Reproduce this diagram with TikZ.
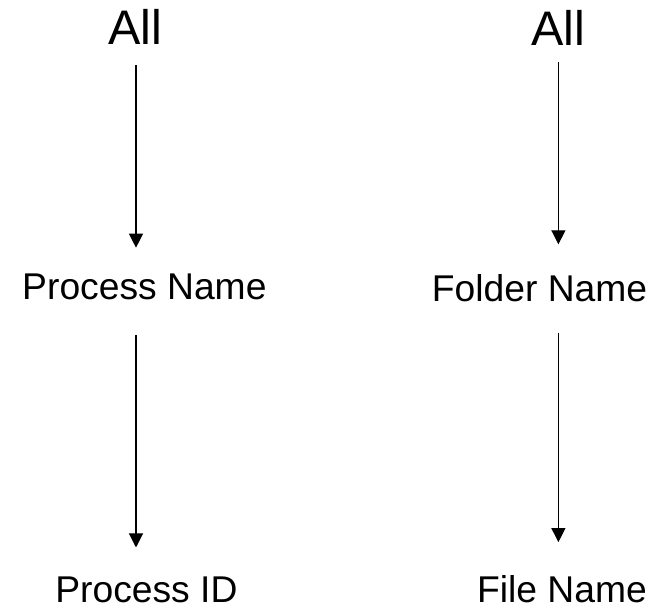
\documentclass[tikz,border=0pt]{standalone}
\usepackage{fontspec}
\setmainfont{Liberation Sans}
\usetikzlibrary{arrows.meta,calc}

\begin{document}
\begin{tikzpicture}[
  top/.style={inner sep=0pt,anchor=base,font=\fontsize{34.5}{40}\selectfont},
  lvl/.style={inner sep=0pt,anchor=base,font=\fontsize{26.5}{31}\selectfont},
  arr/.style={line width=0.8pt,-{Triangle[length=10pt,width=10pt]}}]
\useasboundingbox (0,0) rectangle (16.625,15.275);

\node[top] (allL) at (3.375,14.15) {All};
\node[lvl] (pname) at (3.61,7.775) {Process Name};
\node[lvl] (pid) at (3.66,0.2) {Process ID};

\node[top] (allR) at (13.96,14.125) {All};
\node[lvl] (fname) at (13.49,7.725) {Folder Name};
\node[lvl] (file) at (14.05,0.2) {File Name};

\draw[arr,shorten <=0.5cm,shorten >=0.66cm] ($(allL.south)+(0.025,0)$) -- ($(allL.south |- pname.north)+(0.025,0)$);
\draw[arr,shorten <=0.87cm,shorten >=0.74cm] ($(allL.south |- pname.south)+(0.025,0)$) -- ($(allL.south |- pid.north)+(0.025,0)$);

\draw[arr,shorten <=0.4cm,shorten >=0.76cm] (allR.south) -- (allR.south |- fname.north);
\draw[arr,shorten <=0.75cm,shorten >=0.84cm] (allR.south |- fname.south) -- (allR.south |- file.north);

\end{tikzpicture}
\end{document}
